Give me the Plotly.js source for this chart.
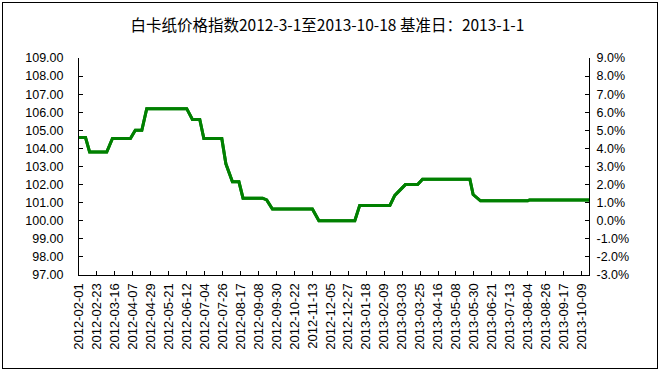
<!DOCTYPE html>
<html>
<head>
<meta charset="utf-8">
<script src="https://cdn.plot.ly/plotly-3.0.1.min.js"></script>
<style>
  html, body { margin: 0; padding: 0; background: #fff; }
  #wrap { position: relative; width: 660px; height: 371px; }
  #chart { width: 660px; height: 371px; }
  #frame { position: absolute; left: 2px; top: 2px; width: 654px; height: 365px; border: 1px solid #000; pointer-events: none; }
</style>
</head>
<body>
<div id="wrap">
  <div id="chart"></div>
  <div id="frame"></div>
</div>
<script>
// Index series (base 2013-1-1 = 100)
const dates = ['2012-02-01','2012-02-09','2012-02-14','2012-03-06','2012-03-13','2012-04-04','2012-04-10','2012-04-18','2012-04-24','2012-06-12','2012-06-19','2012-06-28','2012-07-03','2012-07-25','2012-07-30','2012-08-07','2012-08-15','2012-08-20','2012-09-13','2012-09-18','2012-09-25','2012-11-13','2012-11-21','2013-01-04','2013-01-10','2013-02-16','2013-02-22','2013-03-07','2013-03-22','2013-03-28','2013-05-25','2013-05-29','2013-06-07','2013-08-04','2013-08-06','2013-10-18'];
const indexValues = [104.6,104.6,103.8,103.8,104.55,104.55,105.0,105.0,106.2,106.2,105.6,105.6,104.55,104.55,103.15,102.15,102.15,101.25,101.25,101.15,100.65,100.65,100.0,100.0,100.85,100.85,101.4,102.0,102.0,102.3,102.3,101.45,101.1,101.1,101.15,101.15];

// X tick labels (every 22 days)
const xTickLabels = ['2012-02-01','2012-02-23','2012-03-16','2012-04-07','2012-04-29','2012-05-21','2012-06-12','2012-07-04','2012-07-26','2012-08-17','2012-09-08','2012-09-30','2012-10-22','2012-11-13','2012-12-05','2012-12-27','2013-01-18','2013-02-09','2013-03-03','2013-03-25','2013-04-16','2013-05-08','2013-05-30','2013-06-21','2013-07-13','2013-08-04','2013-08-26','2013-09-17','2013-10-09'];
const leftTicks = [97,98,99,100,101,102,103,104,105,106,107,108,109];
const rightTicks = [-3,-2,-1,0,1,2,3,4,5,6,7,8,9];
const baseValue = 100;

const pctValues = indexValues.map(v => v - baseValue);

const tickFont = { family: 'Liberation Sans, Arial, sans-serif', size: 12.5, color: '#000' };
const lineStyle = { color: '#008000', width: 3 };

const traces = [
  { x: dates, y: indexValues, type: 'scatter', mode: 'lines', line: lineStyle, yaxis: 'y', hoverinfo: 'x+y' },
  { x: dates, y: pctValues, type: 'scatter', mode: 'lines', line: lineStyle, yaxis: 'y2', hoverinfo: 'skip' }
];

const layout = {
  width: 660, height: 371,
  margin: { l: 79, r: 71, t: 58, b: 96, pad: 0 },
  paper_bgcolor: '#fff', plot_bgcolor: '#fff',
  showlegend: false,
  title: {
    text: '白卡纸价格指数2012-3-1至2013-10-18 基准日：2013-1-1',
    font: { family: 'Noto Sans CJK SC, sans-serif', size: 15.5, color: '#000' },
    xref: 'container', x: 0.496, xanchor: 'center',
    yref: 'container', y: 0.932, yanchor: 'middle'
  },
  xaxis: {
    type: 'date',
    range: ['2012-02-01', '2013-10-18'],
    tickmode: 'array', tickvals: xTickLabels, ticktext: xTickLabels,
    tickangle: -90,
    ticks: 'inside', ticklen: 4, tickwidth: 1, tickcolor: '#000',
    showline: true, linecolor: '#000', linewidth: 1,
    showgrid: false, zeroline: false,
    tickfont: { family: 'Liberation Sans, Arial, sans-serif', size: 13, color: '#000' },
    ticklabelstandoff: 2
  },
  yaxis: {
    range: [97, 109],
    tickmode: 'array', tickvals: leftTicks, ticktext: leftTicks.map(v => v.toFixed(2)),
    ticks: 'inside', ticklen: 4, tickwidth: 1, tickcolor: '#000',
    showline: true, linecolor: '#000', linewidth: 1,
    showgrid: false, zeroline: false,
    tickfont: tickFont,
    ticklabelstandoff: 12
  },
  yaxis2: {
    range: [-3, 9],
    overlaying: 'y', side: 'right', anchor: 'x',
    tickmode: 'array', tickvals: rightTicks, ticktext: rightTicks.map(v => v.toFixed(1) + '%'),
    ticks: 'inside', ticklen: 4, tickwidth: 1, tickcolor: '#000',
    showline: true, linecolor: '#000', linewidth: 1,
    showgrid: false, zeroline: false,
    tickfont: tickFont,
    ticklabelstandoff: 4
  }
};

Plotly.newPlot('chart', traces, layout, { staticPlot: true, displayModeBar: false });
</script>
</body>
</html>
